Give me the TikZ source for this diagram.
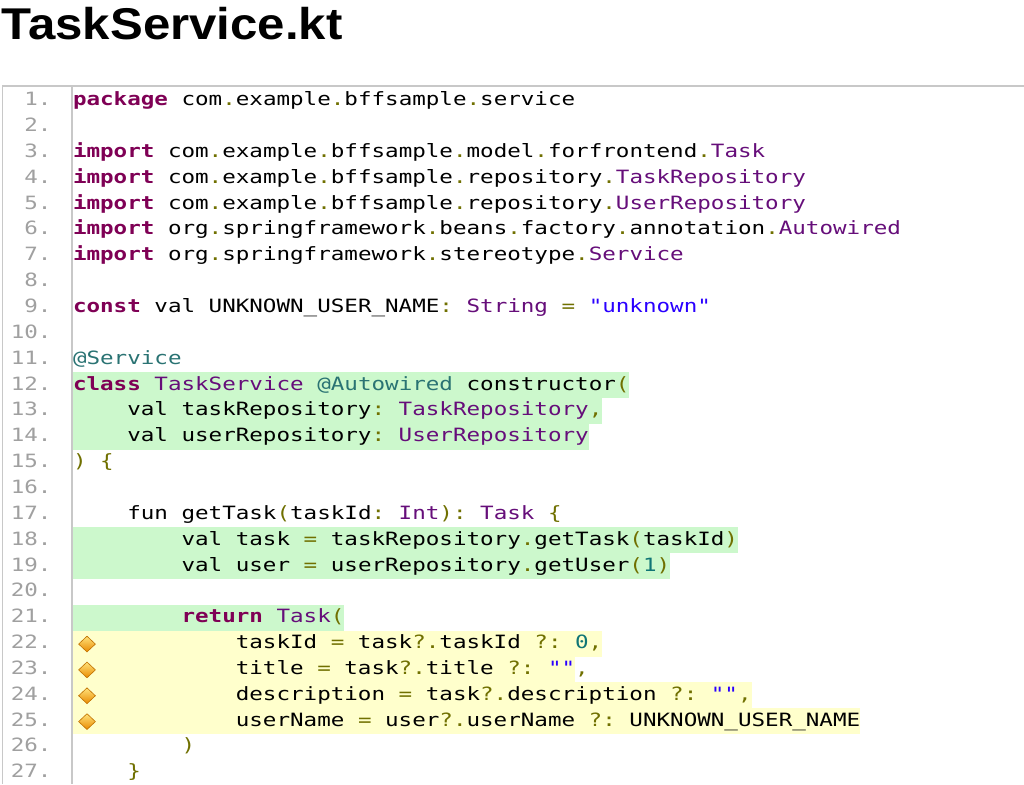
\documentclass[tikz,border=0pt]{standalone}
\usepackage{fontspec}
\usetikzlibrary{shapes.geometric}
\newfontfamily\codefont[FakeStretch=1.232]{DejaVu Sans Mono}
\newfontfamily\titlefont[FakeStretch=1.105]{Liberation Sans}
\definecolor{kwc}{HTML}{7F0055}
\definecolor{tyc}{HTML}{660E7A}
\definecolor{puc}{HTML}{707000}
\definecolor{nmc}{HTML}{107575}
\definecolor{sqc}{HTML}{2A00FF}
\definecolor{anc}{HTML}{2A7373}
\definecolor{lnc}{HTML}{A0A0A0}
\definecolor{hlgreen}{HTML}{CCF8CC}
\definecolor{hlyellow}{HTML}{FFFFCC}
\definecolor{framec}{HTML}{C8C8C8}
\definecolor{dmtop}{HTML}{FFE27A}
\definecolor{dmbot}{HTML}{E98A00}
\definecolor{dmedge}{HTML}{C07000}
\newcommand\kw[1]{{\bfseries\color{kwc}#1}}
\newcommand\ty[1]{{\color{tyc}#1}}
\newcommand\pu[1]{{\color{puc}#1}}
\newcommand\nm[1]{{\color{nmc}#1}}
\newcommand\sq[1]{{\color{sqc}#1}}
\newcommand\ann[1]{{\color{anc}#1}}
\newcommand\codesetup{\codefont\fontsize{18.3}{20}\selectfont}
\newcommand\codesp{\spaceskip=13.57pt\relax\xspaceskip=13.57pt\relax}
\begin{document}
\begin{tikzpicture}[x=1pt,y=-1pt,
  codeline/.style={anchor=base west,inner sep=0pt,outer sep=0pt,font=\codesetup},
  lineno/.style={anchor=base east,inner sep=0pt,outer sep=0pt,text=lnc,font=\codesetup},
  titlenode/.style={anchor=base west,inner sep=0pt,outer sep=0pt,
    font=\titlefont\bfseries\fontsize{44.5}{50}\selectfont},
  framel/.style={draw=framec,line width=1.2pt},
  diam/.style={diamond,shape aspect=1,minimum width=17pt,minimum height=16pt,inner sep=0pt,
    draw=dmedge,line width=0.6pt,top color=dmtop,bottom color=dmbot}
]
\useasboundingbox (0,0) rectangle (1024,784);
\fill[white] (0,0) rectangle (1024,784);

% title
\node[titlenode] (title) at (1.8,39.3) {TaskService.kt};

% highlights (band for line k: baseline-17.8 .. baseline+8.05)
\def\cw{13.57}
\foreach \k/\n in {12/41,13/39,14/38,18/49,19/44,21/20}{
  \fill[hlgreen] (73,{105.7+(\k-1)*25.85-17.8}) rectangle ({73+\n*\cw},{105.7+(\k-1)*25.85+8.05});
}
\foreach \k/\n in {22/39,23/37,24/50,25/58}{
  \fill[hlyellow] (73,{105.7+(\k-1)*25.85-17.8}) rectangle ({73+\n*\cw},{105.7+(\k-1)*25.85+8.05});
}

% frame
\draw[framel] (1024,86) -- (2.7,86) -- (2.7,784);
\draw[framel] (72,86) -- (72,784);

% line numbers
\foreach \k in {1,...,27}{
  \node[lineno] (n\k) at (51.5,{105.7+(\k-1)*25.85}) {\k.};
}

% diamonds
\foreach \k in {22,23,24,25}{
  \node[diam] (d\k) at (87,{105.7+(\k-1)*25.85-4.5}) {};
}

% code
\node[codeline] (c1) at (73,105.7) {\codesp\kw{package} com\pu{.}example\pu{.}bffsample\pu{.}service};
\node[codeline] (c3) at (73,{105.7+2*25.85}) {\codesp\kw{import} com\pu{.}example\pu{.}bffsample\pu{.}model\pu{.}forfrontend\pu{.}\ty{Task}};
\node[codeline] (c4) at (73,{105.7+3*25.85}) {\codesp\kw{import} com\pu{.}example\pu{.}bffsample\pu{.}repository\pu{.}\ty{TaskRepository}};
\node[codeline] (c5) at (73,{105.7+4*25.85}) {\codesp\kw{import} com\pu{.}example\pu{.}bffsample\pu{.}repository\pu{.}\ty{UserRepository}};
\node[codeline] (c6) at (73,{105.7+5*25.85}) {\codesp\kw{import} org\pu{.}springframework\pu{.}beans\pu{.}factory\pu{.}annotation\pu{.}\ty{Autowired}};
\node[codeline] (c7) at (73,{105.7+6*25.85}) {\codesp\kw{import} org\pu{.}springframework\pu{.}stereotype\pu{.}\ty{Service}};
\node[codeline] (c9) at (73,{105.7+8*25.85}) {\codesp\kw{const} val UNKNOWN\_USER\_NAME\pu{:} \ty{String} \pu{=} \sq{"unknown"}};
\node[codeline] (c11) at (73,{105.7+10*25.85}) {\codesp\ann{@Service}};
\node[codeline] (c12) at (73,{105.7+11*25.85}) {\codesp\kw{class} \ty{TaskService} \ann{@Autowired} constructor\pu{(}};
\node[codeline] (c13) at ({73+4*\cw},{105.7+12*25.85}) {\codesp val taskRepository\pu{:} \ty{TaskRepository}\pu{,}};
\node[codeline] (c14) at ({73+4*\cw},{105.7+13*25.85}) {\codesp val userRepository\pu{:} \ty{UserRepository}};
\node[codeline] (c15) at (73,{105.7+14*25.85}) {\codesp\pu{) \{}};
\node[codeline] (c17) at ({73+4*\cw},{105.7+16*25.85}) {\codesp fun getTask\pu{(}taskId\pu{:} \ty{Int}\pu{):} \ty{Task} \pu{\{}};
\node[codeline] (c18) at ({73+8*\cw},{105.7+17*25.85}) {\codesp val task \pu{=} taskRepository\pu{.}getTask\pu{(}taskId\pu{)}};
\node[codeline] (c19) at ({73+8*\cw},{105.7+18*25.85}) {\codesp val user \pu{=} userRepository\pu{.}getUser\pu{(}\nm{1}\pu{)}};
\node[codeline] (c21) at ({73+8*\cw},{105.7+20*25.85}) {\codesp\kw{return} \ty{Task}\pu{(}};
\node[codeline] (c22) at ({73+12*\cw},{105.7+21*25.85}) {\codesp taskId \pu{=} task\pu{?.}taskId \pu{?:} \nm{0}\pu{,}};
\node[codeline] (c23) at ({73+12*\cw},{105.7+22*25.85}) {\codesp title \pu{=} task\pu{?.}title \pu{?:} \sq{""}\pu{,}};
\node[codeline] (c24) at ({73+12*\cw},{105.7+23*25.85}) {\codesp description \pu{=} task\pu{?.}description \pu{?:} \sq{""}\pu{,}};
\node[codeline] (c25) at ({73+12*\cw},{105.7+24*25.85}) {\codesp userName \pu{=} user\pu{?.}userName \pu{?:} UNKNOWN\_USER\_NAME};
\node[codeline] (c26) at ({73+8*\cw},{105.7+25*25.85}) {\codesp\pu{)}};
\node[codeline] (c27) at ({73+4*\cw},{105.7+26*25.85}) {\codesp\pu{\}}};
\end{tikzpicture}
\end{document}
